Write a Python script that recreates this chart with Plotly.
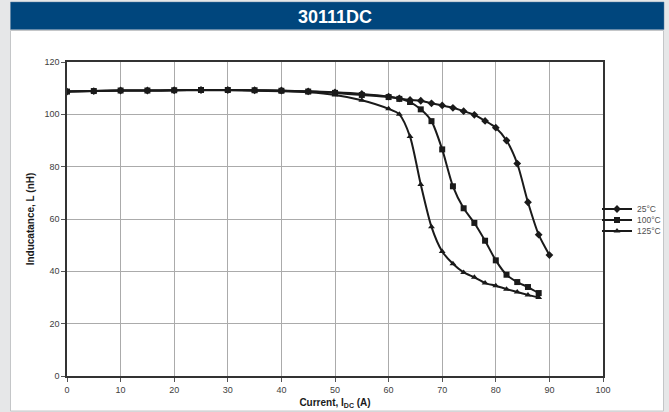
import plotly.graph_objects as go

x_25 = [0, 5, 10, 15, 20, 25, 30, 35, 40, 45, 50, 55, 60, 62, 64, 66, 68, 70, 72, 74, 76, 78, 80, 82, 84, 86, 88, 90]
y_25 = [108.7, 108.9, 109.1, 109.1, 109.2, 109.3, 109.3, 109.2, 109.1, 108.8, 108.4, 107.8, 106.8, 106.1, 105.5, 105.2, 104.2, 103.4, 102.5, 101.2, 99.8, 97.5, 94.9, 90.0, 81.2, 66.4, 54.0, 46.2]

x_100 = [0, 5, 10, 15, 20, 25, 30, 35, 40, 45, 50, 55, 60, 62, 64, 66, 68, 70, 72, 74, 76, 78, 80, 82, 84, 86, 88]
y_100 = [108.7, 108.9, 109.1, 109.1, 109.2, 109.3, 109.3, 109.2, 109.0, 108.7, 108.2, 107.4, 106.6, 105.9, 104.7, 101.9, 97.4, 86.6, 72.5, 64.1, 58.5, 51.7, 44.2, 38.7, 35.9, 34.0, 31.7]

x_125 = [0, 5, 10, 15, 20, 25, 30, 35, 40, 45, 50, 55, 60, 62, 64, 66, 68, 70, 72, 74, 76, 78, 80, 82, 84, 86, 88]
y_125 = [108.7, 108.9, 109.1, 109.1, 109.2, 109.2, 109.2, 109.0, 108.8, 108.4, 107.4, 105.4, 102.1, 100.0, 91.5, 73.2, 57.0, 47.6, 42.9, 39.6, 37.7, 35.5, 34.5, 33.2, 32.1, 31.0, 30.0]

series = [
    ("25°C", x_25, y_25, "diamond", "legend"),
    ("100°C", x_100, y_100, "square", "legend2"),
    ("125°C", x_125, y_125, "triangle-up", "legend3"),
]

fig = go.Figure()
for name, xs, ys, sym, lg in series:
    fig.add_trace(go.Scatter(
        x=xs, y=ys, name=name, mode="lines+markers", legend=lg, showlegend=True,
        line=dict(color="#1a1a1a", width=2, shape="spline", smoothing=0.7),
        marker=dict(symbol=sym, size=6, color="#1a1a1a"),
    ))

W, H = 669, 412
L, R, T, B = 67, 66, 62, 36
pw, ph = W - L - R, H - T - B

def px(xp):
    return (xp - L) / pw

def py(yp):
    return (H - B - yp) / ph

shapes = [
    dict(type="rect", xref="paper", yref="paper", x0=px(10.5), x1=px(663.5), y0=py(411), y1=py(30.5),
         fillcolor="white", line=dict(color="#c4c6c8", width=1), layer="below"),
    dict(type="rect", xref="paper", yref="paper", x0=px(10.5), x1=px(664), y0=py(29.5), y1=py(2),
         fillcolor="#00467d", line=dict(color="#5a7fa0", width=0.5), layer="below"),
]

legend_common = dict(xanchor="left", yanchor="middle", bgcolor="rgba(0,0,0,0)",
                     font=dict(size=8.5, color="#505050"), itemwidth=30, borderwidth=0)

fig.update_layout(
    width=W, height=H,
    showlegend=True,
    margin=dict(l=L, r=R, t=T, b=B, autoexpand=False),
    paper_bgcolor="#e6e7e8",
    plot_bgcolor="white",
    shapes=shapes,
    font=dict(family="Liberation Sans, Arial, sans-serif", color="#404040", size=9),
    annotations=[
        dict(text="<b>30111DC</b>", xref="paper", yref="paper", x=px(335), y=py(16.5),
             xanchor="center", yanchor="middle", showarrow=False,
             font=dict(family="Liberation Sans Narrow, Arial Narrow, Liberation Sans, sans-serif",
                       size=18, color="white")),
    ],
    legend=dict(x=px(597), y=py(209), visible=True, **legend_common),
    legend2=dict(x=px(597), y=py(220), visible=True, **legend_common),
    legend3=dict(x=px(597), y=py(231), visible=True, **legend_common),
    xaxis=dict(range=[0, 100], dtick=10, tick0=0, showgrid=True, gridcolor="#ababab", gridwidth=1,
               showline=True, linecolor="#333333", linewidth=1.5, mirror=True,
               ticks="outside", ticklen=4, tickcolor="#555555", zeroline=False,
               title=dict(text="<b>Current, I<sub>DC</sub> (A)</b>", font=dict(size=10, color="#1a1a1a"), standoff=5)),
    yaxis=dict(range=[0, 120], dtick=20, tick0=0, showgrid=True, gridcolor="#ababab", gridwidth=1,
               showline=True, linecolor="#333333", linewidth=1.5, mirror=True,
               ticks="outside", ticklen=4, tickcolor="#555555", zeroline=False,
               title=dict(text="<b>Inducatance, L (nH)</b>", font=dict(size=10, color="#1a1a1a"), standoff=8)),
)

fig.write_html(
    "out.html",
    config={"displayModeBar": False},
    post_script="document.body.style.margin='0';document.body.style.background='#e6e7e8';",
)
